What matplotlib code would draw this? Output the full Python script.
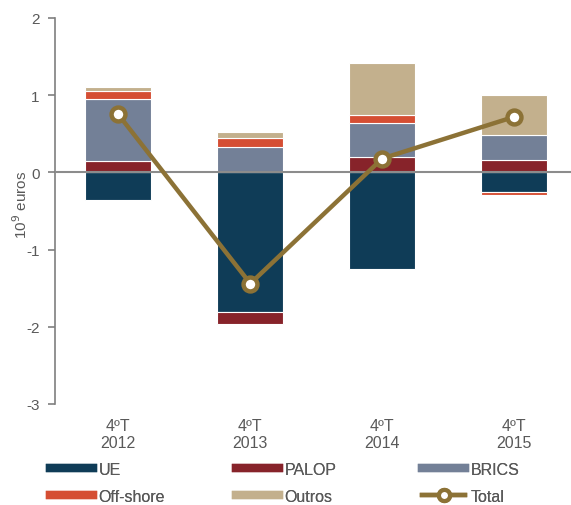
import matplotlib
matplotlib.use("Agg")
import matplotlib.pyplot as plt
from matplotlib.lines import Line2D
import numpy as np

plt.rcParams['font.family'] = ['Liberation Sans', 'DejaVu Sans']

categories = ["4ºT\n2012", "4ºT\n2013", "4ºT\n2014", "4ºT\n2015"]
series_names = ["UE", "PALOP", "BRICS", "Off-shore", "Outros"]
ue = [-0.36, -1.81, -1.25, -0.255]
palop = [0.15, -0.15, 0.20, 0.155]
brics = [0.80, 0.33, 0.445, 0.335]
offshore = [0.11, 0.12, 0.095, -0.035]
outros = [0.05, 0.07, 0.68, 0.51]
total = [0.75, -1.44, 0.18, 0.72]

colors = ["#0F3C57", "#87232A", "#738097", "#D54E33", "#C3B08D"]
total_color = "#8C7236"
text_color = "#595959"

fig = plt.figure(figsize=(5.71, 5.06), dpi=100)
ax = fig.add_axes([55/571, 1 - 405/506, 1 - 55/571, (405 - 19)/506])

x = np.arange(len(categories))
pos_bottom = np.zeros(len(categories))
neg_bottom = np.zeros(len(categories))
for vals, c in zip([ue, palop, brics, offshore, outros], colors):
    v = np.array(vals, dtype=float)
    bottoms = np.where(v >= 0, pos_bottom, neg_bottom)
    ax.bar(x, v, width=0.5, bottom=bottoms, color=c, edgecolor="white",
           linewidth=0.8, zorder=2)
    pos_bottom = pos_bottom + np.where(v >= 0, v, 0)
    neg_bottom = neg_bottom + np.where(v < 0, v, 0)

ax.axhline(0, color="#8c8c8c", linewidth=1.5, zorder=3)
ax.plot(x, total, color=total_color, linewidth=3.2, marker="o", markersize=10,
        markerfacecolor="white", markeredgecolor=total_color, markeredgewidth=3.2,
        zorder=4)

ax.set_xlim(-0.48, 3.43)
ax.set_ylim(-3, 2)
ax.set_yticks([-3, -2, -1, 0, 1, 2])
ax.set_yticklabels(["-3", "-2", "-1", "0", "1", "2"])
ax.set_xticks(x)
ax.set_xticklabels(categories, color=text_color, fontsize=11.5, linespacing=1.15)
ax.tick_params(axis="x", length=0, pad=10)
ax.tick_params(axis="y", direction="out", length=5, width=1.2, color="#7f7f7f",
               labelcolor=text_color, labelsize=11, pad=6)
for s in ["top", "right", "bottom"]:
    ax.spines[s].set_visible(False)
ax.spines["left"].set_color("#7f7f7f")
ax.spines["left"].set_linewidth(1.2)
ax.set_ylabel("10$^9$ euros", color=text_color, fontsize=11)
ax.yaxis.set_label_coords(-0.049, 0.518)

handles = [Line2D([0], [0], color=c, linewidth=6) for c in colors]
handles.append(Line2D([0], [0], color=total_color, linewidth=3.2, marker="o",
                      markersize=8, markerfacecolor="white",
                      markeredgecolor=total_color, markeredgewidth=3))
labels = series_names + ["Total"]
columns = [([0, 3], 50), ([1, 4], 236), ([2, 5], 422)]
for idx, xpx in columns:
    leg = fig.legend([handles[i] for i in idx], [labels[i] for i in idx],
                     loc="center left", bbox_to_anchor=(xpx/571, 1 - 484/506),
                     frameon=False, fontsize=11.5, handlelength=2.7,
                     handletextpad=0.35, labelspacing=0.75, borderpad=0,
                     borderaxespad=0, labelcolor=text_color)
    fig.add_artist(leg)

fig.savefig("out.png", dpi=100)
